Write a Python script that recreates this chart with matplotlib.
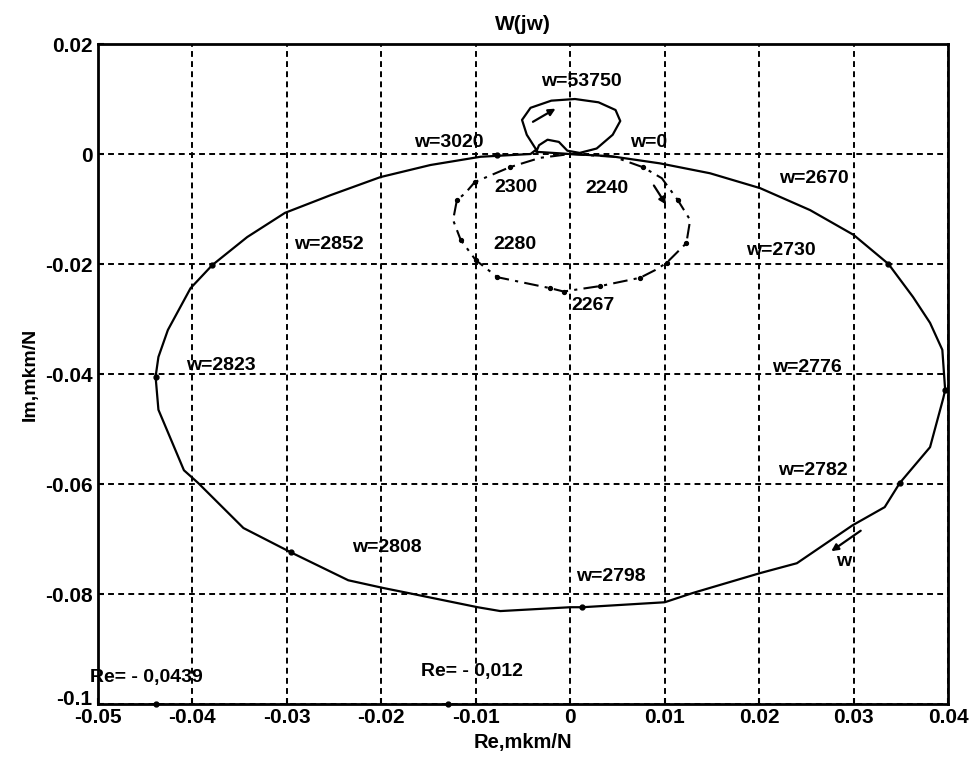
import matplotlib.pyplot as plt
import matplotlib.transforms as mtransforms

# main hodograph (solid), w from 0 up to 53750
main_re = [0.0, 0.0043, 0.0095, 0.0148, 0.0201, 0.0254, 0.0300, 0.0337, 0.0363, 0.0381,
           0.0394, 0.0397, 0.0395, 0.0381, 0.0349, 0.0333, 0.0299, 0.0240, 0.0201, 0.0130,
           0.0100, 0.0013, 0.0000, -0.0074, -0.0098, -0.0172, -0.0198, -0.0235, -0.0296,
           -0.0346, -0.0394, -0.0409, -0.0436, -0.0439, -0.0436, -0.0426, -0.0402, -0.0379,
           -0.0342, -0.0302, -0.0254, -0.0201, -0.0148, -0.0095, -0.0042,
           -0.0036, -0.0046, -0.0051, -0.0042, -0.0020, 0.0005, 0.0030, 0.0048, 0.0053,
           0.0045, 0.0028, 0.0010, -0.0003, -0.0012, -0.0024, -0.0033, -0.0036, 0.0]
main_im = [0.0, -0.0004, -0.0017, -0.0035, -0.0062, -0.0102, -0.0147, -0.0200, -0.0260, -0.0307,
           -0.0356, -0.0429, -0.0444, -0.0533, -0.0598, -0.0642, -0.0675, -0.0744, -0.0762, -0.0798,
           -0.0815, -0.0824, -0.0824, -0.0831, -0.0824, -0.0798, -0.0789, -0.0775, -0.0724,
           -0.0680, -0.0598, -0.0575, -0.0465, -0.0405, -0.0369, -0.0320, -0.0244, -0.0202,
           -0.0151, -0.0107, -0.0075, -0.0042, -0.0020, -0.0005, 0.0,
           0.0008, 0.0035, 0.0062, 0.0084, 0.0097, 0.0100, 0.0094, 0.0080, 0.0060,
           0.0035, 0.0010, 0.0002, 0.0006, 0.0022, 0.0026, 0.0016, 0.0004, 0.0]

# second hodograph (dash-dot), w = 2240..2300
dash_re = [0.0, 0.0046, 0.0077, 0.0097, 0.0114, 0.0127, 0.0123, 0.0102, 0.0090, 0.0074, 0.0032,
           -0.0007, -0.0021, -0.0077, -0.0100, -0.0116, -0.0124, -0.0120, -0.0111, -0.0101,
           -0.0064, -0.0032, 0.0]
dash_im = [0.0, -0.0005, -0.0024, -0.0044, -0.0084, -0.0120, -0.0162, -0.0198, -0.0211, -0.0225,
           -0.0240, -0.0250, -0.0244, -0.0224, -0.0193, -0.0156, -0.0120, -0.0084, -0.0071,
           -0.0051, -0.0024, -0.0007, 0.0]

# marked points
mark_re = [0.0337, 0.0397, 0.0349, 0.0013, -0.0296, -0.0439, -0.0379, -0.0077, -0.0439, -0.0129]
mark_im = [-0.0200, -0.0429, -0.0598, -0.0824, -0.0724, -0.0405, -0.0202, -0.0002, -0.1, -0.1]

dmark_re = [0.0077, 0.0114, 0.0123, 0.0102, 0.0074, 0.0032, -0.0007, -0.0021, -0.0077, -0.0100,
            -0.0116, -0.0120, -0.0101, -0.0064]
dmark_im = [-0.0024, -0.0084, -0.0162, -0.0198, -0.0225, -0.0240, -0.0250, -0.0244, -0.0224,
            -0.0193, -0.0156, -0.0084, -0.0051, -0.0024]

# labels: text, re, im
labels = [("w=53750", 0.0012, 0.0131), ("w=3020", -0.0129, 0.0021), ("w=0", 0.0083, 0.0021),
          ("w=2670", 0.0258, -0.0044), ("2300", -0.0057, -0.0060), ("2240", 0.0039, -0.0062),
          ("w=2852", -0.0256, -0.0165), ("2280", -0.0059, -0.0164), ("w=2730", 0.0223, -0.0175),
          ("2267", 0.0024, -0.0275), ("w=2823", -0.0370, -0.0384), ("w=2776", 0.0251, -0.0389),
          ("w=2782", 0.0257, -0.0575), ("w", 0.0289, -0.0740), ("w=2808", -0.0194, -0.0715),
          ("w=2798", 0.0043, -0.0769), ("Re= - 0,0439", -0.0449, -0.0951),
          ("Re= - 0,012", -0.0104, -0.0940)]

xticks = [-0.05, -0.04, -0.03, -0.02, -0.01, 0, 0.01, 0.02, 0.03, 0.04]
xtick_labels = ["-0.05", "-0.04", "-0.03", "-0.02", "-0.01", "0", "0.01", "0.02", "0.03", "0.04"]
yticks = [0.02, 0, -0.02, -0.04, -0.06, -0.08, -0.1]
ytick_labels = ["0.02", "0", "-0.02", "-0.04", "-0.06", "-0.08", "-0.1"]

plt.rcParams['font.family'] = ['Liberation Sans', 'DejaVu Sans']
plt.rcParams['font.weight'] = 'bold'

fig = plt.figure(figsize=(9.72, 7.64), dpi=100)
ax = fig.add_axes([0.1008, 0.0785, 0.8745, 0.8639])

ax.plot(main_re, main_im, color='black', lw=1.6)
ax.plot(dash_re, dash_im, color='black', lw=1.5, linestyle=(0, (7, 3, 1.5, 3)))
ax.plot(mark_re, mark_im, 'o', color='black', ms=3.5, clip_on=False)
ax.plot(dmark_re, dmark_im, 'o', color='black', ms=2.8)

# direction arrows
arrow = dict(arrowstyle='-|>', color='black', lw=1.6, mutation_scale=10)
ax.annotate('', xy=(-0.0013, 0.0085), xytext=(-0.0042, 0.0056), arrowprops=arrow)
ax.annotate('', xy=(0.0103, -0.0096), xytext=(0.0087, -0.0053), arrowprops=arrow)
ax.annotate('', xy=(0.0274, -0.0725), xytext=(0.0310, -0.0682), arrowprops=arrow)

for txt, x, y in labels:
    ax.text(x, y, txt, ha='center', va='center', fontsize=14, fontweight='bold')

ax.set_xlim(-0.05, 0.04)
ax.set_ylim(-0.1, 0.02)
ax.set_xticks(xticks)
ax.set_xticklabels(xtick_labels)
ax.set_yticks(yticks)
ax.set_yticklabels(ytick_labels)
ax.tick_params(direction='in', labelsize=15, length=4, width=1.5)
ax.tick_params(axis='x', pad=3)
ax.tick_params(axis='y', pad=4)
ax.grid(True, color='black', linestyle=(0, (3, 2.2)), lw=1.4)
for s in ax.spines.values():
    s.set_linewidth(2)

# lift the lowest y label a little, as in the original
lbl = ax.get_yticklabels()[-1]
lbl.set_transform(lbl.get_transform() + mtransforms.ScaledTranslation(0, 5 / 72, fig.dpi_scale_trans))

ax.set_title("W(jw)", fontsize=15, fontweight='bold', pad=10)
ax.set_xlabel("Re,mkm/N", fontsize=14.5, fontweight='bold', labelpad=4)
ax.set_ylabel("Im,mkm/N", fontsize=14, fontweight='bold', labelpad=4)

fig.savefig("out.png", dpi=100)
